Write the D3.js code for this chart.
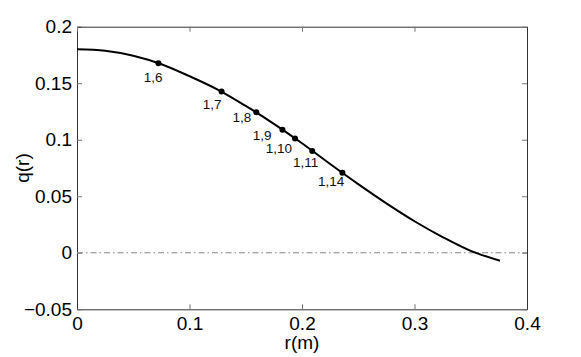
<!DOCTYPE html>
<html>
<head>
<meta charset="utf-8">
<script src="https://cdn.jsdelivr.net/npm/d3@7"></script>
<style>
  body { margin: 0; background: #fff; }
  svg { display: block; font-family: "Liberation Sans", Arial, sans-serif; }
</style>
</head>
<body>
<svg></svg>
<script>
// curve q(r)
var curveR = [0, 0.025, 0.05, 0.075, 0.1, 0.125, 0.15, 0.175, 0.2, 0.225, 0.25, 0.275, 0.3, 0.325, 0.35, 0.376];
var curveQ = [0.18, 0.1787, 0.1743, 0.1668, 0.1562, 0.1444, 0.1299, 0.1141, 0.0969, 0.0785, 0.0607, 0.0437, 0.0279, 0.0139, 0.0017, -0.007];

// marked points and their labels
var pointR = [0.0724, 0.1285, 0.1594, 0.1826, 0.1938, 0.2091, 0.2359];
var pointQ = [0.1676, 0.1426, 0.1244, 0.1089, 0.1012, 0.0900, 0.0707];
var pointLabels = ["1,6", "1,7", "1,8", "1,9", "1,10", "1,11", "1,14"];

// ticks
var xTicks = [0, 0.1, 0.2, 0.3, 0.4];
var xTickLabels = ["0", "0.1", "0.2", "0.3", "0.4"];
var yTicks = [-0.05, 0, 0.05, 0.1, 0.15, 0.2];
var yTickLabels = ["\u22120.05", "0", "0.05", "0.1", "0.15", "0.2"];

// label offsets from each point (px), end of text anchored
var labelDx = [4, 0, -5, -11, -3, 6, 2];
var labelDy = [19, 17, 10, 10, 15, 16, 13];

var svgWidth = 581;
var svgHeight = 357;
var margin = { top: 26.7, right: 54, bottom: 47.7, left: 77 };
var chartWidth = svgWidth - margin.left - margin.right;
var chartHeight = svgHeight - margin.top - margin.bottom;

var svg = d3.select("svg")
  .attr("width", svgWidth)
  .attr("height", svgHeight);

var chartGroup = svg.append("g")
  .attr("transform", `translate(${margin.left}, ${margin.top})`);

var x = d3.scaleLinear().domain([0, 0.4]).range([0, chartWidth]);
var y = d3.scaleLinear().domain([-0.05, 0.2]).range([chartHeight, 0]);

// axes, ticks pointing inward on all four sides
var fontSize = 19;
function styleAxis(g) {
  g.select(".domain").attr("stroke", "#333").attr("stroke-width", 1);
  g.selectAll(".tick line").attr("stroke", "#777");
  g.selectAll(".tick text").attr("fill", "#000").style("font-size", fontSize + "px")
    .style("font-family", "'Liberation Sans', Arial, sans-serif");
}

chartGroup.append("g")
  .attr("transform", `translate(0,${chartHeight})`)
  .call(d3.axisBottom(x).tickValues(xTicks).tickFormat((d, i) => xTickLabels[i])
    .tickSizeInner(-5).tickSizeOuter(0).tickPadding(7))
  .call(styleAxis);

chartGroup.append("g")
  .call(d3.axisLeft(y).tickValues(yTicks).tickFormat((d, i) => yTickLabels[i])
    .tickSizeInner(-5).tickSizeOuter(0).tickPadding(5))
  .call(styleAxis);

chartGroup.append("g")
  .call(d3.axisTop(x).tickValues(xTicks).tickFormat("")
    .tickSizeInner(-5).tickSizeOuter(0))
  .call(styleAxis);

chartGroup.append("g")
  .attr("transform", `translate(${chartWidth},0)`)
  .call(d3.axisRight(y).tickValues(yTicks).tickFormat("")
    .tickSizeInner(-5).tickSizeOuter(0))
  .call(styleAxis);

// zero line, dash-dot
chartGroup.append("line")
  .attr("x1", x(0)).attr("x2", x(0.4))
  .attr("y1", y(0)).attr("y2", y(0))
  .attr("stroke", "#888")
  .attr("stroke-width", 1)
  .attr("stroke-dasharray", "6,3,1.5,3");

// the curve
var curveData = curveR.map((r, i) => ({ r: r, q: curveQ[i] }));
var drawLine = d3.line()
  .x(d => x(d.r))
  .y(d => y(d.q))
  .curve(d3.curveCatmullRom.alpha(0.5));

chartGroup.append("path")
  .attr("d", drawLine(curveData))
  .attr("fill", "none")
  .attr("stroke", "#000")
  .attr("stroke-width", 2);

// points + labels
var pointData = pointR.map((r, i) => ({ r: r, q: pointQ[i], label: pointLabels[i], dx: labelDx[i], dy: labelDy[i] }));

chartGroup.selectAll(".pt")
  .data(pointData)
  .enter()
  .append("circle")
  .attr("class", "pt")
  .attr("cx", d => x(d.r))
  .attr("cy", d => y(d.q))
  .attr("r", 3)
  .attr("fill", "#000");

chartGroup.selectAll(".lbl")
  .data(pointData)
  .enter()
  .append("text")
  .attr("class", "lbl")
  .attr("x", d => x(d.r) + d.dx)
  .attr("y", d => y(d.q) + d.dy)
  .attr("text-anchor", "end")
  .style("font-size", "13.5px")
  .attr("fill", "#111")
  .text(d => d.label);

// axis titles
svg.append("text")
  .attr("x", margin.left + chartWidth / 2)
  .attr("y", 349)
  .attr("text-anchor", "middle")
  .style("font-size", fontSize + "px")
  .text("r(m)");

svg.append("text")
  .attr("transform", `translate(29, ${margin.top + chartHeight / 2}) rotate(-90)`)
  .attr("text-anchor", "middle")
  .style("font-size", fontSize + "px")
  .text("q(r)");
</script>
</body>
</html>
